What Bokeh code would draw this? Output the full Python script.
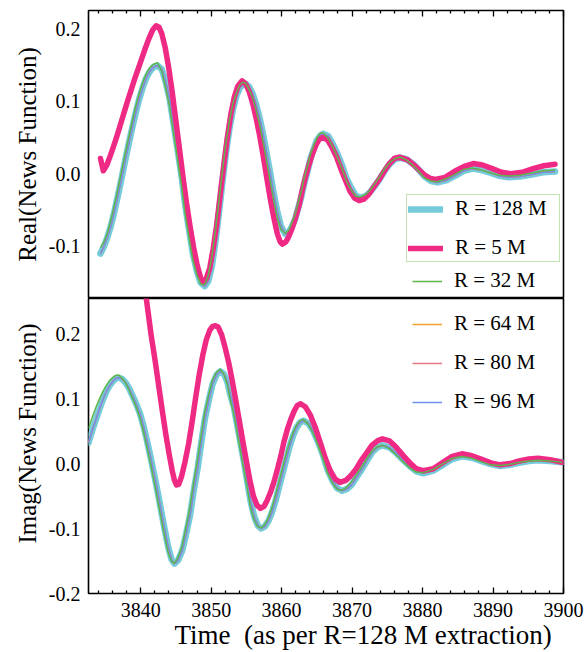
from bokeh.plotting import figure
from bokeh.models import Range1d, FixedTicker, Legend, LegendItem, PrintfTickFormatter
from bokeh.layouts import column
from bokeh.embed import file_html
from bokeh.resources import INLINE

# ---------------- data ----------------
x_major = [3840, 3850, 3860, 3870, 3880, 3890, 3900]
x_minor = [3834, 3836, 3838, 3842, 3844, 3846, 3848, 3852, 3854, 3856, 3858,
           3862, 3864, 3866, 3868, 3872, 3874, 3876, 3878, 3882, 3884, 3886,
           3888, 3892, 3894, 3896, 3898]
re_ticks = [-0.1, 0.0, 0.1, 0.2]
im_ticks = [-0.2, -0.1, 0.0, 0.1, 0.2]

# Real part, R = 128 M (R = 32 M sampled on the same times)
re_t_128 = [3834.3, 3834.8, 3835.3, 3835.8, 3836.3, 3836.8, 3837.3, 3837.8, 3838.3, 3838.8,
            3839.3, 3839.8, 3840.3, 3840.8, 3841.3, 3841.8, 3842.4,
            3843.0, 3843.5, 3844.1, 3844.6, 3845.2, 3845.8, 3846.3, 3846.9, 3847.4, 3848.0,
            3848.5, 3849.1,
            3849.6, 3850.1, 3850.6, 3851.1, 3851.6, 3852.1, 3852.6, 3853.1, 3853.6, 3854.1,
            3854.5, 3854.9,
            3855.4, 3855.9, 3856.4, 3856.9, 3857.4, 3857.9, 3858.4, 3858.9, 3859.4, 3859.9,
            3860.5,
            3861.0, 3861.4, 3861.9, 3862.3, 3862.8, 3863.2, 3863.7, 3864.1, 3864.6, 3865.0,
            3865.5, 3865.9,
            3866.6, 3867.2, 3867.9, 3868.6, 3869.2, 3869.9, 3870.5, 3871.2,
            3871.9, 3872.6, 3873.3, 3874.0, 3874.7, 3875.4, 3876.1, 3876.8,
            3877.7, 3878.6, 3879.5, 3880.3, 3881.2, 3882.1,
            3883.35, 3884.6, 3885.85, 3887.1, 3888.4, 3889.7, 3890.9, 3892.2, 3893.8, 3895.5,
            3897.1, 3898.8]
re_v_128 = [-0.110, -0.100, -0.087, -0.071, -0.051, -0.029, -0.006, 0.018, 0.041, 0.063,
            0.084, 0.103, 0.119, 0.132, 0.141, 0.147, 0.149,
            0.144, 0.129, 0.104, 0.073, 0.036, -0.003, -0.042, -0.079, -0.110, -0.135,
            -0.150, -0.155,
            -0.148, -0.128, -0.095, -0.055, -0.012, 0.028, 0.062, 0.089, 0.108, 0.119,
            0.123, 0.124,
            0.120, 0.110, 0.095, 0.076, 0.053, 0.027, 0.000, -0.028, -0.053, -0.072,
            -0.083,
            -0.081, -0.074, -0.063, -0.049, -0.032, -0.014, 0.004, 0.021, 0.035, 0.046,
            0.053, 0.055,
            0.052, 0.042, 0.028, 0.011, -0.006, -0.020, -0.030, -0.033,
            -0.031, -0.025, -0.016, -0.006, 0.005, 0.014, 0.020, 0.022,
            0.020, 0.014, 0.005, -0.004, -0.010, -0.012,
            -0.009, -0.003, 0.004, 0.007, 0.005, 0.001, -0.003, -0.005, -0.004, -0.001,
            0.002, 0.003]
re_v_32 = [-0.102, -0.094, -0.081, -0.063, -0.042, -0.020, 0.004, 0.027, 0.050, 0.072,
           0.093, 0.111, 0.126, 0.138, 0.146, 0.151, 0.153,
           0.141, 0.120, 0.093, 0.060, 0.022, -0.017, -0.055, -0.090, -0.119, -0.140,
           -0.152, -0.153,
           -0.140, -0.115, -0.079, -0.038, 0.004, 0.042, 0.073, 0.097, 0.112, 0.123,
           0.126, 0.125,
           0.116, 0.104, 0.087, 0.067, 0.043, 0.016, -0.011, -0.038, -0.061, -0.077,
           -0.082,
           -0.078, -0.069, -0.057, -0.042, -0.024, -0.006, 0.011, 0.027, 0.040, 0.049,
           0.056, 0.056,
           0.049, 0.038, 0.023, 0.006, -0.010, -0.023, -0.031, -0.032,
           -0.029, -0.022, -0.013, -0.003, 0.008, 0.016, 0.021, 0.023,
           0.019, 0.012, 0.003, -0.006, -0.010, -0.011,
           -0.007, -0.001, 0.006, 0.008, 0.005, 0.001, -0.002, -0.003, -0.002, 0.001,
           0.004, 0.005]
# R = 64, 80, 96 M cannot be told apart from R = 128 M in the picture
re_v_64 = list(re_v_128)
re_v_80 = list(re_v_128)
re_v_96 = list(re_v_128)

# Real part, R = 5 M
re_t_5 = [3834.3, 3834.7, 3835.2, 3835.7, 3836.2, 3836.7, 3837.2, 3837.7, 3838.2, 3838.7,
          3839.2, 3839.7, 3840.2, 3840.7, 3841.2, 3841.7, 3842.2,
          3842.6, 3843.0, 3843.5, 3844.0, 3844.5, 3845.0, 3845.5, 3846.0, 3846.5, 3847.0,
          3847.5, 3848.0, 3848.5, 3848.9,
          3849.3, 3849.8, 3850.3, 3850.8, 3851.3, 3851.8, 3852.3, 3852.8, 3853.3, 3853.8,
          3854.4,
          3854.9, 3855.4, 3855.9, 3856.4, 3856.9, 3857.4, 3857.9, 3858.4, 3858.9, 3859.4,
          3859.8, 3860.1,
          3860.6, 3861.0, 3861.5, 3862.0, 3862.5, 3862.9, 3863.4, 3863.9, 3864.4, 3864.9,
          3865.3, 3865.8,
          3866.5, 3867.1, 3867.8, 3868.4, 3869.1, 3869.7, 3870.4, 3871.0,
          3871.7, 3872.4, 3873.1, 3873.9, 3874.6, 3875.3, 3876.0, 3876.7,
          3877.9, 3879.0, 3880.2, 3881.0, 3881.8,
          3883.2, 3884.5, 3885.9, 3887.2, 3888.5, 3889.9, 3891.2, 3892.5, 3894.1, 3895.7,
          3897.2, 3898.8]
re_v_5 = [0.021, 0.004, 0.012, 0.025, 0.039, 0.054, 0.070, 0.086, 0.102, 0.117,
          0.132, 0.146, 0.160, 0.174, 0.187, 0.198, 0.204,
          0.202, 0.193, 0.173, 0.145, 0.111, 0.073, 0.035, -0.004, -0.040, -0.072,
          -0.101, -0.125, -0.143, -0.150,
          -0.145, -0.130, -0.103, -0.070, -0.028, 0.012, 0.050, 0.082, 0.106, 0.121,
          0.128,
          0.124, 0.113, 0.097, 0.076, 0.052, 0.024, -0.006, -0.035, -0.061, -0.083,
          -0.094, -0.097,
          -0.094, -0.087, -0.075, -0.060, -0.043, -0.024, -0.004, 0.013, 0.028, 0.040,
          0.047, 0.050,
          0.047, 0.037, 0.023, 0.007, -0.010, -0.024, -0.034, -0.037,
          -0.035, -0.028, -0.018, -0.007, 0.004, 0.014, 0.021, 0.023,
          0.019, 0.010, -0.001, -0.006, -0.008,
          -0.005, 0.003, 0.010, 0.014, 0.012, 0.007, 0.002, 0.000, 0.002, 0.007,
          0.011, 0.013]

# Imaginary part, R = 128 M (R = 32 M sampled on the same times)
im_t_128 = [3832.6, 3833.1, 3833.6, 3834.1, 3834.6, 3835.1, 3835.6, 3836.1, 3836.5, 3836.9,
            3837.4, 3837.9, 3838.4, 3838.9, 3839.4, 3839.9, 3840.4, 3840.9, 3841.4, 3841.9,
            3842.4, 3842.9, 3843.4, 3843.9, 3844.4, 3844.8,
            3845.3, 3845.9, 3846.4, 3847.0, 3847.5, 3848.1, 3848.6, 3849.1, 3849.7, 3850.2,
            3850.8, 3851.3,
            3851.8, 3852.3, 3852.7, 3853.2, 3853.7, 3854.2, 3854.7, 3855.2, 3855.6, 3856.1,
            3856.6, 3857.1,
            3857.6, 3858.1, 3858.6, 3859.1, 3859.6, 3860.1, 3860.6, 3861.1, 3861.6, 3862.1,
            3862.6, 3863.1,
            3863.8, 3864.5, 3865.2, 3865.9, 3866.5, 3867.2, 3867.9, 3868.6,
            3869.3, 3870.0, 3870.7, 3871.5, 3872.2, 3872.9, 3873.6, 3874.3,
            3875.3, 3876.2, 3877.2, 3878.2, 3879.1, 3880.1,
            3881.5, 3882.9, 3884.2, 3885.6, 3887.0, 3888.3, 3889.7, 3891.0, 3892.4, 3893.7,
            3895.1, 3896.4, 3898.1, 3899.8]
im_v_128 = [0.032, 0.050, 0.066, 0.082, 0.097, 0.110, 0.120, 0.127, 0.131, 0.132,
            0.130, 0.124, 0.115, 0.103, 0.091, 0.077, 0.058, 0.035, 0.010, -0.016,
            -0.043, -0.072, -0.101, -0.128, -0.148, -0.154,
            -0.149, -0.134, -0.111, -0.080, -0.044, -0.006, 0.032, 0.068, 0.099, 0.122,
            0.137, 0.142,
            0.138, 0.126, 0.107, 0.088, 0.060, 0.030, 0.000, -0.032, -0.058, -0.081,
            -0.095, -0.100,
            -0.097, -0.089, -0.076, -0.059, -0.038, -0.017, 0.004, 0.025, 0.042, 0.055,
            0.063, 0.066,
            0.062, 0.050, 0.033, 0.012, -0.009, -0.026, -0.038, -0.042,
            -0.039, -0.032, -0.020, -0.007, 0.006, 0.018, 0.025, 0.028,
            0.025, 0.017, 0.006, -0.004, -0.012, -0.015,
            -0.011, -0.002, 0.007, 0.011, 0.009, 0.004, -0.001, -0.004, -0.002, 0.001,
            0.004, 0.005, 0.004, 0.002]
im_v_32 = [0.054, 0.070, 0.085, 0.098, 0.110, 0.120, 0.128, 0.133, 0.136, 0.136,
           0.131, 0.123, 0.112, 0.099, 0.086, 0.070, 0.049, 0.025, 0.000, -0.027,
           -0.055, -0.084, -0.112, -0.137, -0.151, -0.153,
           -0.145, -0.126, -0.100, -0.067, -0.030, 0.008, 0.045, 0.080, 0.108, 0.129,
           0.141, 0.145,
           0.138, 0.121, 0.099, 0.077, 0.047, 0.017, -0.013, -0.043, -0.068, -0.087,
           -0.097, -0.099,
           -0.094, -0.084, -0.069, -0.050, -0.029, -0.008, 0.013, 0.032, 0.047, 0.059,
           0.066, 0.068,
           0.060, 0.046, 0.027, 0.006, -0.014, -0.030, -0.040, -0.041,
           -0.036, -0.027, -0.016, -0.003, 0.009, 0.020, 0.026, 0.028,
           0.023, 0.014, 0.003, -0.007, -0.013, -0.014,
           -0.009, 0.000, 0.008, 0.011, 0.008, 0.003, -0.002, -0.003, -0.001, 0.002,
           0.004, 0.005, 0.004, 0.002]
im_v_64 = list(im_v_128)
im_v_80 = list(im_v_128)
im_v_96 = list(im_v_128)

# Imaginary part, R = 5 M (comes in from above the panel)
im_t_5 = [3839.0, 3840.0, 3840.8, 3841.5, 3842.1, 3842.6, 3843.1, 3843.6, 3844.1, 3844.5,
          3844.8, 3845.1, 3845.4, 3845.8, 3846.3, 3846.8, 3847.3, 3847.8, 3848.3, 3848.8,
          3849.3, 3849.8, 3850.2, 3850.6,
          3851.0, 3851.5, 3852.0, 3852.5, 3853.0, 3853.5, 3854.0, 3854.5, 3855.0, 3855.5,
          3856.0, 3856.5, 3857.0,
          3857.5, 3857.9, 3858.4, 3858.9, 3859.4, 3859.9, 3860.3, 3860.8, 3861.3, 3861.8,
          3862.2, 3862.7,
          3863.4, 3864.1, 3864.8, 3865.5, 3866.2, 3866.9, 3867.6, 3868.3,
          3869.1, 3869.8, 3870.6, 3871.3, 3872.1, 3872.8, 3873.6, 3874.3,
          3875.3, 3876.2, 3877.2, 3878.2, 3879.1, 3880.1,
          3881.5, 3882.9, 3884.2, 3885.6, 3887.0, 3888.3, 3889.7, 3891.0, 3892.4, 3893.7,
          3895.1, 3896.4, 3898.1, 3899.8]
im_v_5 = [0.400, 0.316, 0.254, 0.197, 0.155, 0.117, 0.079, 0.043, 0.011, -0.012,
          -0.026, -0.033, -0.032, -0.020, 0.003, 0.030, 0.064, 0.101, 0.136, 0.166,
          0.190, 0.205, 0.211, 0.212,
          0.210, 0.198, 0.178, 0.155, 0.127, 0.097, 0.066, 0.034, 0.004, -0.026,
          -0.050, -0.064, -0.069,
          -0.066, -0.058, -0.045, -0.029, -0.009, 0.012, 0.032, 0.052, 0.068, 0.081,
          0.089, 0.092,
          0.087, 0.074, 0.055, 0.032, 0.008, -0.011, -0.024, -0.029,
          -0.026, -0.019, -0.008, 0.005, 0.017, 0.028, 0.035, 0.038,
          0.035, 0.026, 0.013, 0.001, -0.008, -0.011,
          -0.008, 0.002, 0.011, 0.015, 0.012, 0.007, 0.001, -0.002, 0.000, 0.004,
          0.007, 0.008, 0.006, 0.002]

labels = ["R = 128 M", "R = 5 M", "R = 32 M", "R = 64 M", "R = 80 M", "R = 96 M"]

# ---------------- styling ----------------
FONT = "Liberation Serif"
C128 = "#74cbd9"
C5 = "#ee2a85"
C32 = "#5db54b"
C64 = "#f5a033"
C80 = "#e57a86"
C96 = "#7090ee"
NB = "\u00a0"

xr = Range1d(3832.6, 3900)


def style(p, ylabel, yticks):
    p.outline_line_color = "black"
    p.outline_line_width = 1.6
    p.xgrid.visible = False
    p.ygrid.visible = False
    p.background_fill_color = "white"
    p.border_fill_color = "white"
    ya = p.yaxis[0]
    ya.ticker = FixedTicker(ticks=yticks)
    ya.formatter = PrintfTickFormatter(format="%.1f")
    ya.axis_line_color = None
    ya.major_tick_in = 0
    ya.major_tick_out = 0
    ya.minor_tick_in = 0
    ya.minor_tick_out = 0
    ya.major_label_text_font = FONT
    ya.major_label_text_font_size = "20px"
    ya.major_label_text_color = "black"
    ya.major_label_standoff = 8
    ya.axis_label = ylabel
    ya.axis_label_text_font = FONT
    ya.axis_label_text_font_size = "25px"
    ya.axis_label_text_font_style = "normal"
    ya.axis_label_text_color = "black"
    ya.axis_label_standoff = 5
    xa = p.xaxis[0]
    xa.ticker = FixedTicker(ticks=x_major, minor_ticks=x_minor)
    xa.axis_line_color = None
    xa.major_tick_in = 6
    xa.major_tick_out = 0
    xa.minor_tick_in = 3
    xa.minor_tick_out = 0
    xa.major_tick_line_color = "black"
    xa.minor_tick_line_color = "black"
    xa.major_tick_line_width = 1.3
    xa.minor_tick_line_width = 1.3


def draw(p, t_main, v128, v64, v80, v96, t5, v5, v32):
    r128 = p.line(t_main, v128, line_color=C128, line_width=6.5, line_cap="round", line_join="round")
    r64 = p.line(t_main, v64, line_color=C64, line_width=1.5, line_join="round")
    r80 = p.line(t_main, v80, line_color=C80, line_width=1.5, line_join="round")
    r96 = p.line(t_main, v96, line_color=C96, line_width=1.5, line_join="round")
    r5 = p.line(t5, v5, line_color=C5, line_width=5.5, line_cap="round", line_join="round")
    r32 = p.line(t_main, v32, line_color=C32, line_width=1.5, line_join="round")
    return r128, r5, r32, r64, r80, r96


def legend(items, loc, glyph_w, spacing, border):
    lg = Legend(items=items, location=loc, orientation="vertical")
    lg.label_text_font = FONT
    lg.label_text_font_size = "21px"
    lg.label_text_color = "black"
    lg.label_standoff = 12
    lg.glyph_width = glyph_w
    lg.glyph_height = 22
    lg.label_height = 22
    lg.label_width = 103
    lg.spacing = spacing
    lg.padding = 1
    lg.margin = 0
    if border:
        lg.border_line_color = "#8cc862"
        lg.border_line_width = 1.5
        lg.background_fill_color = "white"
        lg.background_fill_alpha = 1.0
    else:
        lg.border_line_alpha = 0
        lg.background_fill_alpha = 0
    return lg


# ---------------- top panel: real part ----------------
p1 = figure(width=584, height=298, x_range=xr, y_range=Range1d(-0.172, 0.225),
            x_axis_location="above", toolbar_location=None, output_backend="svg",
            min_border_left=88, min_border_right=21, min_border_top=10, min_border_bottom=0)
style(p1, "Real(News Function)", re_ticks)
p1.xaxis[0].major_label_text_font_size = "1px"
p1.xaxis[0].major_label_text_alpha = 0
p1.xaxis[0].major_label_standoff = 0
rt = draw(p1, re_t_128, re_v_128, re_v_64, re_v_80, re_v_96, re_t_5, re_v_5, re_v_32)
p1.add_layout(legend([LegendItem(label=labels[0], renderers=[rt[0]]),
                      LegendItem(label=labels[1], renderers=[rt[1]])], (318, 36), 35, 14, True))
p1.add_layout(legend([LegendItem(label=labels[2], renderers=[rt[2]])], (323, 4), 30, 13, False))

# ---------------- bottom panel: imaginary part ----------------
p2 = figure(width=584, height=354, x_range=xr, y_range=Range1d(-0.2, 0.254),
            toolbar_location=None, output_backend="svg",
            min_border_left=88, min_border_right=21, min_border_top=0, min_border_bottom=59)
style(p2, NB * 4 + "Imag(News Function)", im_ticks)
xa2 = p2.xaxis[0]
xa2.major_label_text_font = FONT
xa2.major_label_text_font_size = "20px"
xa2.major_label_text_color = "black"
xa2.major_label_standoff = 9
xa2.axis_label = NB * 11 + "Time" + NB * 2 + "(as per R=128 M extraction)"
xa2.axis_label_text_font = FONT
xa2.axis_label_text_font_size = "27px"
xa2.axis_label_text_font_style = "normal"
xa2.axis_label_text_color = "black"
xa2.axis_label_standoff = 0
rb = draw(p2, im_t_128, im_v_128, im_v_64, im_v_80, im_v_96, im_t_5, im_v_5, im_v_32)
p2.add_layout(legend([LegendItem(label=labels[3], renderers=[rb[3]]),
                      LegendItem(label=labels[4], renderers=[rb[4]]),
                      LegendItem(label=labels[5], renderers=[rb[5]])], (323, 178), 30, 14, False))

layout = column(p1, p2, spacing=0)
open("out.html", "w").write(file_html(layout, INLINE))
